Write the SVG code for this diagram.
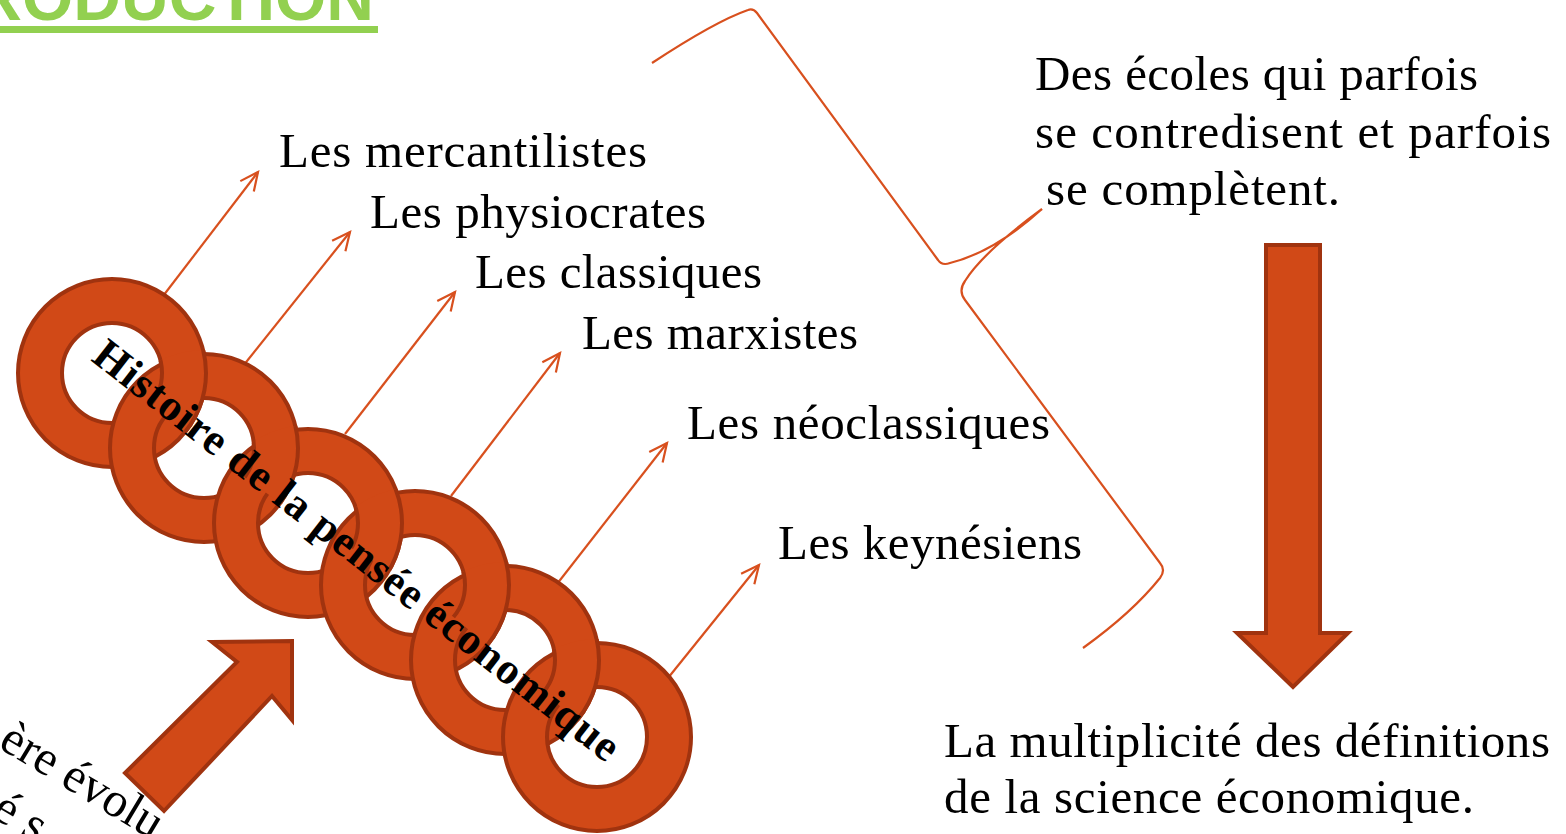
<svg xmlns="http://www.w3.org/2000/svg" xmlns:xlink="http://www.w3.org/1999/xlink" width="1566" height="834" viewBox="0 0 1566 834">
<style>
.lbl{font-family:"Liberation Serif","Times New Roman",serif;font-size:49px;fill:#000}
.ring{fill:#D14917;stroke:#A0330F;stroke-width:4;fill-rule:evenodd}
.blk{fill:#D14917;stroke:#A0330F;stroke-width:4;stroke-linejoin:miter}
.con{stroke:#D8501E;stroke-width:2.2;fill:none}
.title{font-family:"Liberation Sans",Arial,sans-serif;font-weight:bold;font-size:66px;fill:#92D050}
</style>
<defs>
<marker id="open" markerUnits="userSpaceOnUse" markerWidth="24" markerHeight="24" refX="20" refY="10" orient="auto" viewBox="0 0 24 20">
<path d="M2,1.5 L20,10 L2,18.5" fill="none" stroke="#D8501E" stroke-width="2.2"/>
</marker>
<path id="ring" class="ring" d="M-94,0 a94,94 0 1,0 188,0 a94,94 0 1,0 -188,0 Z M-50,0 a50,50 0 1,0 100,0 a50,50 0 1,0 -100,0 Z"/>
<clipPath id="d2"><circle cx="204" cy="448" r="98"/></clipPath>
<clipPath id="d3"><circle cx="308" cy="523" r="98"/></clipPath>
<clipPath id="d4"><circle cx="415" cy="585" r="98"/></clipPath>
<clipPath id="d5"><circle cx="505" cy="660" r="98"/></clipPath>
<clipPath id="d6"><circle cx="597" cy="737" r="98"/></clipPath>
<clipPath id="h12"><polygon points="-43,246.6 359,574.4 485.4,419.4 83.4,91.6"/></clipPath>
<clipPath id="h23"><polygon points="41.8,331 470.2,640 587.2,477.8 158.8,168.8"/></clipPath>
<clipPath id="h34"><polygon points="135,422.8 588,685.2 688.2,512.2 235.2,249.8"/></clipPath>
<clipPath id="h45"><polygon points="261.4,457 658.6,788 786.6,634.4 389.4,303.4"/></clipPath>
<clipPath id="h56"><polygon points="351.6,531.6 750.4,865.4 878.8,712 480,378.2"/></clipPath>
</defs>
<rect width="1566" height="834" fill="#fff"/>

<g id="title">
<text class="title" x="374" y="20" text-anchor="end">INTRODUCTION</text>
<rect x="0" y="26" width="378" height="7" fill="#92D050"/>
</g>

<g id="connectors">
<line class="con" x1="160" y1="300" x2="258" y2="172" marker-end="url(#open)"/>
<line class="con" x1="243" y1="366" x2="350" y2="232" marker-end="url(#open)"/>
<line class="con" x1="345" y1="434" x2="455" y2="292" marker-end="url(#open)"/>
<line class="con" x1="451" y1="496" x2="560" y2="353" marker-end="url(#open)"/>
<line class="con" x1="557" y1="584" x2="667" y2="443" marker-end="url(#open)"/>
<line class="con" x1="668" y1="678" x2="759" y2="565" marker-end="url(#open)"/>
<path id="brace" class="con" d="M652,63 C690,38 725,18 748,10 Q753,8 757,13 L938,260 Q942,266 950,263 C978,256 1010,238 1042,209 C1008,234 978,260 965,281 Q958,291 965,300 L1160,563 Q1166,570 1160,578 C1140,603 1115,625 1083,648"/>
</g>

<g id="chain">
<use xlink:href="#ring" href="#ring" x="112" y="373"/>
<use xlink:href="#ring" href="#ring" x="204" y="448"/>
<use xlink:href="#ring" href="#ring" x="308" y="523"/>
<use xlink:href="#ring" href="#ring" x="415" y="585"/>
<use xlink:href="#ring" href="#ring" x="505" y="660"/>
<use xlink:href="#ring" href="#ring" x="597" y="737"/>
<g clip-path="url(#d2)"><g clip-path="url(#h12)"><use xlink:href="#ring" href="#ring" x="112" y="373"/></g></g>
<g clip-path="url(#d3)"><g clip-path="url(#h23)"><use xlink:href="#ring" href="#ring" x="204" y="448"/></g></g>
<g clip-path="url(#d4)"><g clip-path="url(#h34)"><use xlink:href="#ring" href="#ring" x="308" y="523"/></g></g>
<g clip-path="url(#d5)"><g clip-path="url(#h45)"><use xlink:href="#ring" href="#ring" x="415" y="585"/></g></g>
<g clip-path="url(#d6)"><g clip-path="url(#h56)"><use xlink:href="#ring" href="#ring" x="505" y="660"/></g></g>
<text transform="translate(90,360) rotate(38)" font-family="'Liberation Serif','Times New Roman',serif" font-weight="bold" font-size="44" textLength="655" fill="#000">Histoire de la pensée économique</text>
</g>

<g id="labels">
<text class="lbl" x="279" y="167" textLength="368">Les mercantilistes</text>
<text class="lbl" x="370" y="228" textLength="336">Les physiocrates</text>
<text class="lbl" x="475" y="288" textLength="287">Les classiques</text>
<text class="lbl" x="582" y="349" textLength="276">Les marxistes</text>
<text class="lbl" x="687" y="439" textLength="363">Les néoclassiques</text>
<text class="lbl" x="778" y="559" textLength="304">Les keynésiens</text>
</g>

<g id="note">
<text class="lbl" x="1035" y="90" textLength="443">Des écoles qui parfois</text>
<text class="lbl" x="1035" y="148" textLength="516">se contredisent et parfois</text>
<text class="lbl" x="1046" y="205" textLength="294">se complètent.</text>
</g>

<g id="down-arrow">
<polygon class="blk" points="1266,245 1320,245 1320,633 1348,633 1293,687 1237,633 1266,633"/>
</g>

<g id="conclusion">
<text class="lbl" x="944" y="757" textLength="606">La multiplicité des définitions</text>
<text class="lbl" x="944" y="813" textLength="530">de la science économique.</text>
</g>

<g id="up-arrow">
<polygon class="blk" points="212,642 292,641 292,720 272,696 164,811 125,773 237,662"/>
</g>

<g id="rotated-note">
<text class="lbl" transform="translate(-3,747) rotate(31)">ère évolu</text>
<text class="lbl" transform="translate(-10,816) rotate(31)">é s</text>
</g>
</svg>
